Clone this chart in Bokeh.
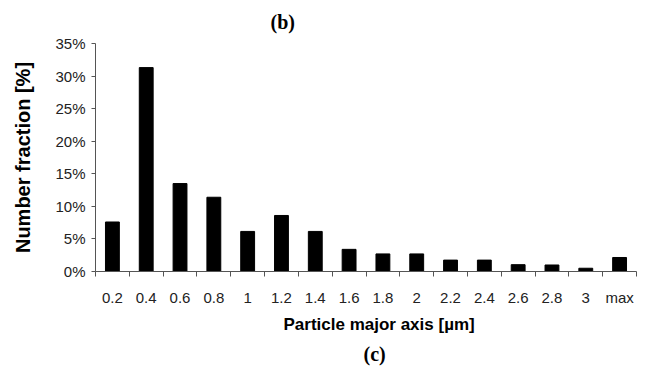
from bokeh.plotting import figure
from bokeh.models import FixedTicker, PrintfTickFormatter, Title, Range1d
from bokeh.embed import file_html
from bokeh.resources import INLINE

categories = ["0.2", "0.4", "0.6", "0.8", "1", "1.2", "1.4", "1.6", "1.8", "2",
              "2.2", "2.4", "2.6", "2.8", "3", "max"]
fractions = [7.6, 31.3, 13.5, 11.4, 6.15, 8.6, 6.15, 3.4, 2.7, 2.7,
             1.75, 1.75, 1.05, 1.0, 0.5, 2.15]
y_ticks = [0, 5, 10, 15, 20, 25, 30, 35]

n = len(categories)
centers = [i + 0.5 for i in range(n)]
bounds = list(range(n + 1))

p = figure(width=652, height=373, output_backend="svg", toolbar_location=None,
           x_range=Range1d(0, n), y_range=Range1d(0, 35),
           min_border_left=95, min_border_right=16, min_border_top=43,
           min_border_bottom=102)
p.outline_line_color = None
p.grid.grid_line_color = None
p.background_fill_color = "white"
p.border_fill_color = "white"

p.vbar(x=centers, top=fractions, width=0.41, bottom=0, color="black")

font = "Liberation Sans"
p.xaxis.ticker = FixedTicker(ticks=centers, minor_ticks=bounds)
p.xaxis.major_label_overrides = {c: lab for c, lab in zip(centers, categories)}
p.xaxis.major_tick_out = 0
p.xaxis.major_tick_in = 0
p.xaxis.minor_tick_out = 5
p.xaxis.minor_tick_in = 0
p.xaxis.major_label_standoff = 12
p.xaxis.major_label_text_font = font
p.xaxis.major_label_text_font_size = "15px"
p.xaxis.major_label_text_color = "#222222"
p.xaxis.axis_line_color = "#555555"
p.xaxis.minor_tick_line_color = "#555555"

p.yaxis.ticker = FixedTicker(ticks=y_ticks)
p.yaxis.formatter = PrintfTickFormatter(format="%d%%")
p.yaxis.major_tick_out = 4
p.yaxis.major_tick_in = 0
p.yaxis.minor_tick_line_color = None
p.yaxis.major_label_standoff = 6
p.yaxis.major_label_text_font = font
p.yaxis.major_label_text_font_size = "15px"
p.yaxis.major_label_text_color = "#222222"
p.yaxis.axis_line_color = "#555555"
p.yaxis.major_tick_line_color = "#555555"
p.yaxis.axis_label = "Number fraction [%]"
p.yaxis.axis_label_text_font = font
p.yaxis.axis_label_text_font_style = "bold"
p.yaxis.axis_label_text_font_size = "20px"
p.yaxis.axis_label_text_color = "black"
p.yaxis.axis_label_standoff = 18

tb = Title(text="(b)", align="left", offset=175, text_font="Liberation Serif",
           text_font_style="bold", text_font_size="20px", text_color="black",
           standoff=18, vertical_align="top")
p.add_layout(tb, "above")
tx = Title(text="Particle major axis [µm]", align="left", offset=188,
           text_font=font, text_font_style="bold", text_font_size="17px",
           text_color="black", standoff=8)
p.add_layout(tx, "below")
tc = Title(text="(c)", align="left", offset=268, text_font="Liberation Serif",
           text_font_style="bold", text_font_size="20px", text_color="black",
           standoff=6)
p.add_layout(tc, "below")

open("out.html", "w").write(file_html(p, INLINE))
